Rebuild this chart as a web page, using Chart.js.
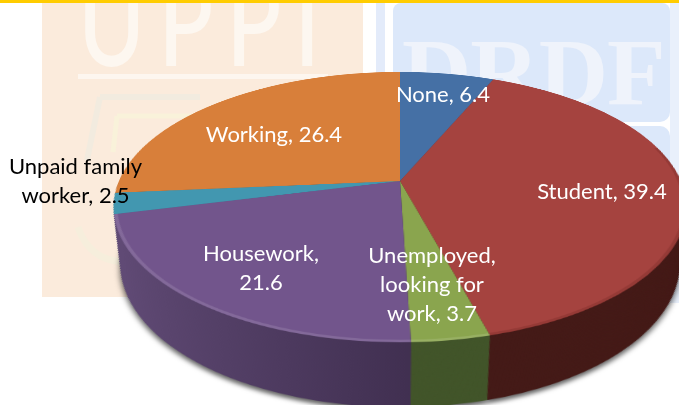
<!DOCTYPE html>
<html>
<head>
<meta charset="utf-8">
<script src="https://cdn.jsdelivr.net/npm/chart.js@4"></script>
<style>
  html, body { margin: 0; padding: 0; background: #fff; }
  #page { position: relative; width: 679px; height: 405px; overflow: hidden; background: #fff; font-family: Lato, sans-serif; }
  #topbar { position: absolute; left: 0; top: 0; width: 679px; height: 3px; background: #ffcc00; }
  #cream { position: absolute; left: 42px; top: 3px; width: 321px; height: 294px; background: #fbebdc; }
  #paleblue { position: absolute; left: 376px; top: 3px; width: 9px; height: 300px; background: #e3ebfa; }
  #paleblue2 { position: absolute; left: 670px; top: 3px; width: 9px; height: 300px; background: #e9f0fb; }
  #bluebox { position: absolute; left: 393px; top: 3px; width: 277px; height: 119px; background: #dce8fa; border-radius: 8px 8px 10px 10px; }
  #bluebox2 { position: absolute; left: 393px; top: 126px; width: 277px; height: 170px; background: #dce8fa; border-radius: 10px; }
  .mark { position: absolute; white-space: nowrap; }
  #uppi { left: 78px; top: -52px; font: 500 120px Lato, sans-serif; letter-spacing: 17px; color: #fdf7f0; transform: scaleX(0.76); transform-origin: 0 0; }
  #uppiline { position: absolute; left: 78px; top: 74px; width: 250px; height: 5px; background: #fdf6ef; }
  #drdf { left: 402px; top: 17px; font: 700 96px "Liberation Serif", serif; letter-spacing: -1px; color: #eff3fb; }
  #logo { position: absolute; left: 75px; top: 90px; width: 130px; height: 180px; }
  canvas { position: absolute; left: 100px; top: -119px; transform-origin: 300px 300px; transform: perspective(1291px) rotateX(62.4deg); }
  .lbl { position: absolute; text-align: center; color: #fff; font-size: 22px; line-height: 29px; }
  #l0 { left: 368px; top: 79px; width: 150px; }
  #l1 { left: 517px; top: 176px; width: 170px; }
  #l2 { left: 362px; top: 240px; width: 140px; }
  #l3 { left: 191px; top: 238px; width: 140px; }
  #l4 { left: 0px; top: 151px; width: 151px; color: #000; }
  #l5 { left: 189px; top: 119px; width: 170px; }
</style>
</head>
<body>
<div id="page">
  <div id="cream"></div>
  <div id="paleblue"></div>
  <div id="paleblue2"></div>
  <div id="bluebox"></div>
  <div id="bluebox2"></div>
  <div id="uppi" class="mark">UPPI</div>
  <div id="uppiline"></div>
  <svg id="logo" viewBox="0 0 130 180">
    <path d="M25 7 H125 M25 7 L12 70" fill="none" stroke="#f2ebdf" stroke-width="6"/>
    <path d="M42 26 H125 M42 26 L38 62" fill="none" stroke="#f9f2da" stroke-width="5"/>
    <path d="M3 137 Q14 170 48 172" fill="none" stroke="#f6eedc" stroke-width="7"/>
  </svg>
  <div id="drdf" class="mark">DRDF</div>
  <canvas id="pie" width="600" height="1000"></canvas>
  <div id="labels"></div>
  <div id="topbar"></div>
</div>
<script>
const categories = ["None", "Student", "Unemployed, looking for work", "Housework", "Unpaid family worker", "Working"];
const values = [6.4, 39.4, 3.7, 21.6, 2.5, 26.4];
const topColors = ["#4570a5", "#a5433f", "#8aa54e", "#72558c", "#4297b0", "#d87f3a"];
const wallColors = ["#2c4a70", "#451b18", "#42552a", "#4a3660", "#2b6577", "#8f5325"];

const wallLayers = 90;
const wallShift = 112.5;   // how far the bottom circle sits down the tilted plane
const wallShrink = 0.099;  // and how much smaller it looks, further from the camera

// side of the pie: stack of darker copies behind the top face
const wallPlugin = {
  id: "wall",
  beforeDatasetsDraw(chart) {
    const ctx = chart.ctx;
    const arcs = chart.getDatasetMeta(0).data;
    const cx = arcs[0].x, cy = arcs[0].y;
    const purple = ctx.createLinearGradient(-260, 0, 15, 0);
    purple.addColorStop(0, "#604a75");
    purple.addColorStop(1, "#402f50");
    for (let k = wallLayers; k > 0; k--) {
      const u = k / wallLayers;
      const f = 1 - wallShrink * u;
      ctx.save();
      if (k === wallLayers) {
        ctx.shadowColor = "rgba(0,0,0,0.6)";
        ctx.shadowBlur = 5;
        ctx.shadowOffsetY = 4;
      }
      ctx.translate(cx, cy + wallShift * u);
      ctx.scale(f, f);
      arcs.forEach((arc, i) => {
        ctx.beginPath();
        ctx.moveTo(0, 0);
        ctx.arc(0, 0, arc.outerRadius, arc.startAngle, arc.endAngle);
        ctx.closePath();
        ctx.fillStyle = i === 3 ? purple : wallColors[i];
        ctx.fill();
      });
      ctx.restore();
    }
  },
  afterDatasetsDraw(chart) {
    // bevel: light edge on the purple/green front, soft dark edge on the red
    const ctx = chart.ctx;
    const arcs = chart.getDatasetMeta(0).data;
    const rim = (from, to, color) => {
      ctx.strokeStyle = color;
      ctx.lineWidth = 3.5;
      ctx.beginPath();
      ctx.arc(arcs[0].x, arcs[0].y, arcs[0].outerRadius - 1.75, from, to);
      ctx.stroke();
    };
    ctx.save();
    rim(arcs[2].startAngle, arcs[3].endAngle, "rgba(255,255,255,0.12)");
    rim(arcs[1].startAngle + 0.9, arcs[1].endAngle, "rgba(60,10,10,0.15)");
    ctx.restore();
  }
};

new Chart(document.getElementById("pie"), {
  type: "pie",
  data: {
    labels: categories,
    datasets: [{ data: values, backgroundColor: topColors, borderWidth: 0, radius: 281 }]
  },
  options: {
    responsive: false,
    animation: false,
    layout: { padding: { bottom: 400 } },
    plugins: { legend: { display: false }, tooltip: { enabled: false } }
  },
  plugins: [wallPlugin]
});

// data labels as real text, "name, value"
const holder = document.getElementById("labels");
categories.forEach((name, i) => {
  const d = document.createElement("div");
  d.className = "lbl";
  d.id = "l" + i;
  d.textContent = name + ", " + values[i];
  holder.appendChild(d);
});
</script>
</body>
</html>
